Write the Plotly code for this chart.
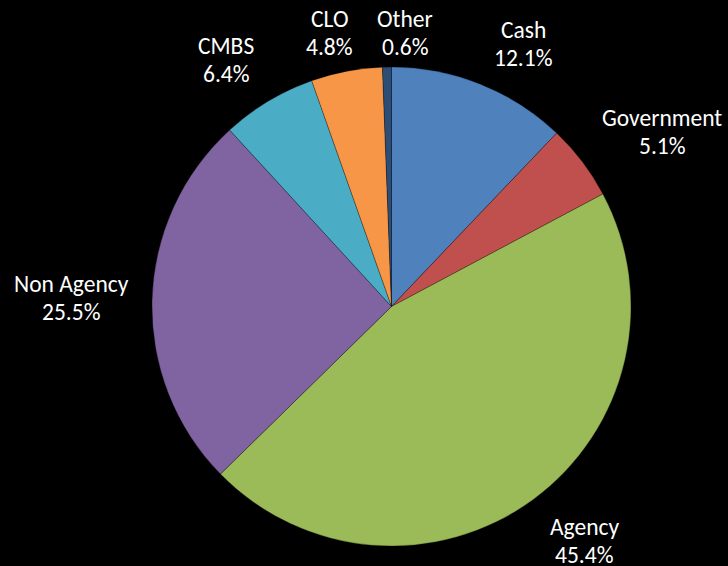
import math
import plotly.graph_objects as go

# Portfolio allocation by sector (percent of total)
categories = ["Cash", "Government", "Agency", "Non Agency", "CMBS", "CLO", "Other"]
values = [12.1, 5.1, 45.4, 25.5, 6.4, 4.8, 0.6]
colors = ["#4F81BD", "#C0504D", "#9BBB59", "#8064A2", "#4BACC6", "#F79646", "#2C4D75"]

W, H = 728, 566
CX, CY, R = 391.5, 306.5, 239.5      # pie centre and radius in pixels
FONT = "Calibri, Carlito, Lato, sans-serif"
FS = 23.5
GAP = 18
LINE = 28                            # baseline spacing of the two label lines

# fine adjustments (px) so neighbouring labels sit clear of each other
label_nudge = {
    "Cash": (23, 11), "Government": (14, 21), "Agency": (15, -9),
    "Non Agency": (-1, 0), "CMBS": (-14, 5), "CLO": (-8, 11), "Other": (19, 12.5),
}

fig = go.Figure(go.Pie(
    labels=categories,
    values=values,
    sort=False,
    direction="clockwise",
    rotation=0,
    marker=dict(colors=colors, line=dict(color="rgba(0,0,0,0.45)", width=0.6)),
    textinfo="none",
    hoverinfo="label+percent",
    showlegend=False,
    domain=dict(x=[(CX - R) / W, (CX + R) / W], y=[1 - (CY + R) / H, 1 - (CY - R) / H]),
))

# Category / percentage labels placed just outside each slice's mid-angle
total = sum(values)
cum = 0.0
annotations = []
for name, v in zip(categories, values):
    mid = (cum + v / 2) / total * 2 * math.pi
    cum += v
    pct = f"{v:.1f}%"
    hw = 0.55 * 22 * max(len(name), len(pct)) / 2
    hh = 28
    s, c = math.sin(mid), math.cos(mid)
    d = R + GAP + abs(hw * s) + abs(hh * c)
    nx, ny = label_nudge[name]
    px = CX + d * s + nx
    py = CY - d * c + ny
    for txt, yy in ((name, py - LINE / 2), (pct, py + LINE / 2)):
        annotations.append(dict(
            x=px / W, y=1 - yy / H, xref="paper", yref="paper",
            text=txt, showarrow=False,
            xanchor="center", yanchor="middle", align="center",
            font=dict(family=FONT, size=FS, color="white"),
        ))

fig.update_layout(
    width=W, height=H,
    margin=dict(l=0, r=0, t=0, b=0),
    paper_bgcolor="black",
    plot_bgcolor="black",
    annotations=annotations,
)

fig.write_html("out.html")
